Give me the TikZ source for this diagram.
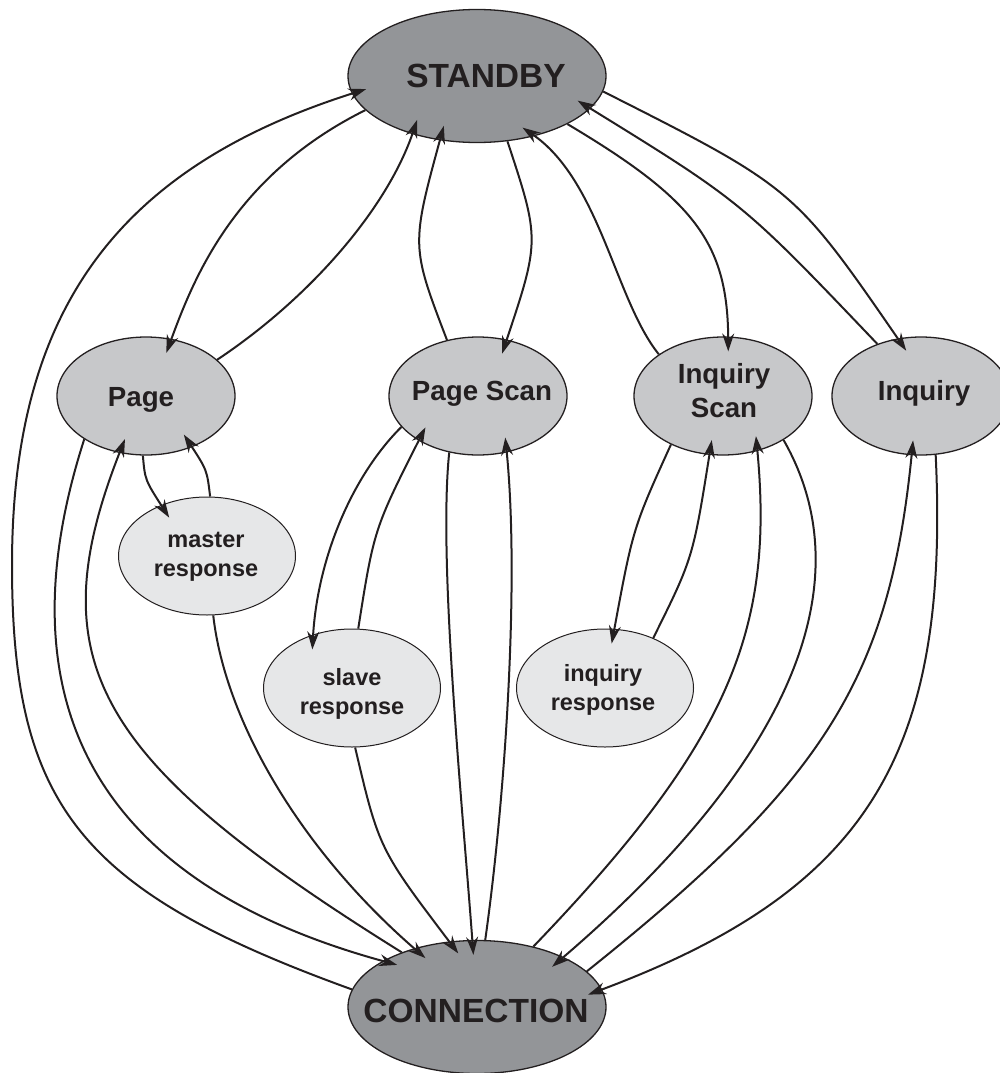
\documentclass[tikz,border=0pt]{standalone}
\usepackage{fontspec}
\setmainfont{Liberation Sans}
\usetikzlibrary{arrows.meta,shapes.geometric}
\definecolor{ink}{HTML}{231F20}
\definecolor{mainfill}{HTML}{939598}
\definecolor{modefill}{HTML}{C7C8CA}
\definecolor{respfill}{HTML}{E6E7E8}
\begin{document}
\begin{tikzpicture}[x=1pt,y=-1pt,
  bigstate/.style={ellipse, draw=ink, fill=mainfill, line width=1.3pt,
    minimum width=258pt, minimum height=133pt, inner sep=0pt},
  modestate/.style={ellipse, draw=ink, fill=modefill, line width=1.3pt,
    minimum width=178pt, minimum height=118pt, inner sep=0pt},
  respstate/.style={ellipse, draw=ink, fill=respfill, line width=1pt,
    minimum width=177pt, minimum height=118pt, inner sep=0pt},
  bigtxt/.style={font=\fontsize{33.5}{40}\selectfont\bfseries, text=ink,
    inner sep=0pt, anchor=base},
  modetxt/.style={font=\fontsize{27.7}{34}\selectfont\bfseries, text=ink,
    inner sep=0pt, align=center},
  resptxt/.style={font=\fontsize{23.5}{29}\selectfont\bfseries, text=ink,
    inner sep=0pt, align=center},
  arr/.style={draw=ink, line width=2pt,
    -{Stealth[length=18pt,width=12pt,inset=6pt]}, shorten >=-15pt}]

\useasboundingbox (0,0) rectangle (999,1073);

% states
\node[bigstate]  (standby)    at (477,76)   {};
\node[bigstate]  (connection) at (477,1007) {};
\node[modestate] (page)       at (146,396)  {};
\node[modestate] (pagescan)   at (478,396)  {};
\node[modestate] (inqscan)    at (723,396)  {};
\node[modestate] (inquiry)    at (921,396)  {};
\node[respstate] (master)     at (207,556)  {};
\node[respstate] (slave)      at (352,688)  {};
\node[respstate] (inqresp)    at (605,688)  {};

% state names
\node[bigtxt] (standby-t)    at (486,87)   {STANDBY};
\node[bigtxt] (connection-t) at (476,1022) {CONNECTION};
\node[modetxt, anchor=base] (page-t)     at (141,406) {Page};
\node[modetxt, anchor=base] (pagescan-t) at (482,400) {Page Scan};
\node[modetxt, anchor=base] (inquiry-t)  at (924,400) {Inquiry};
\node[modetxt] (inqscan-t) at (724,391) {Inquiry\\Scan};
\node[resptxt] (master-t)  at (206,557) {master\\response};
\node[resptxt] (slave-t)   at (352,693.5) {slave\\response};
\node[resptxt] (inqresp-t) at (603,690) {inquiry\\response};

% transitions into and out of STANDBY
\draw[arr] (connection.172) .. controls (80,891) and (12,806) .. (12,565)
           .. controls (12,310) and (118,167) .. (standby.188);
\draw[arr] (standby.197) .. controls (233,176) and (193,280) .. (page.66);
\draw[arr] (page.27) .. controls (310,298) and (388,208) .. (standby.222);
\draw[arr] (pagescan.119) .. controls (411,246) .. (standby.240);
\draw[arr] (standby.295) .. controls (540,240) .. (pagescan.63);
\draw[arr] (inqscan.147) .. controls (615,300) and (600,180) .. (standby.314);
\draw[arr] (standby.332) .. controls (695,200) and (728,243) .. (inqscan.85);
\draw[arr] (inquiry.130) .. controls (742,202) .. (standby.344);
\draw[arr] (standby.353) .. controls (794,188) .. (inquiry.112);

% page side
\draw[arr] (page.215) .. controls (0,701) and (94,883) .. (connection.154);
\draw[arr] (connection.144) .. controls (93,760) and (37,661) .. (page.245);
\draw[arr] (page.267) .. controls (145,480) .. (master.132);
\draw[arr] (master.87) .. controls (207,470) .. (page.312);
\draw[arr] (master.276) .. controls (225,720) and (300,850) .. (connection.137);

% page scan side
\draw[arr] (pagescan.202) .. controls (352,476) and (317,559) .. (slave.126);
\draw[arr] (slave.84) .. controls (374,529) .. (pagescan.217);
\draw[arr] (slave.273) .. controls (379,849) .. (connection.113);
\draw[arr] (pagescan.243) .. controls (438,560) and (462,800) .. (connection.94);
\draw[arr] (connection.83) .. controls (505,800) and (520,580) .. (pagescan.297);

% inquiry scan side
\draw[arr] (inqscan.223) .. controls (633,528) .. (inqresp.81);
\draw[arr] (inqresp.46) .. controls (693,558) .. (inqscan.257);
\draw[arr] (connection.47) .. controls (729,743) and (775,630) .. (inqscan.302);
\draw[arr] (inqscan.324) .. controls (867,586) and (786,767) .. (connection.30);

% inquiry side
\draw[arr] (connection.18) .. controls (825,781) and (890,678) .. (inquiry.261);
\draw[arr] (inquiry.284) .. controls (950,756) and (867,891) .. (connection.8);
\end{tikzpicture}
\end{document}
